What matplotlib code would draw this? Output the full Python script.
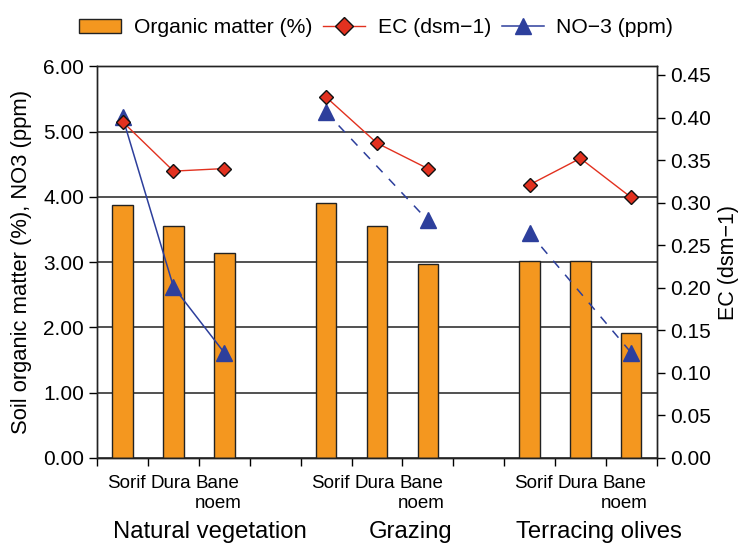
import numpy as np
import matplotlib
matplotlib.use("Agg")
import matplotlib.pyplot as plt
from matplotlib.patches import Patch
from matplotlib.lines import Line2D
from matplotlib.ticker import FormatStrFormatter, MultipleLocator, FixedLocator

plt.rcParams['font.family'] = ['Liberation Sans', 'DejaVu Sans']

groups = ["Natural vegetation", "Grazing", "Terracing olives"]
sites = ["Sorif", "Dura", "Bane\nnoem"]
organic_matter = [[3.87, 3.56, 3.14], [3.91, 3.56, 2.97], [3.01, 3.01, 1.92]]
ec = [[0.395, 0.337, 0.340], [0.424, 0.370, 0.340], [0.321, 0.352, 0.306]]
no3 = [[5.22, 2.62, 1.61], [5.30, np.nan, 3.64], [3.45, np.nan, 1.61]]
no3_style = ["-", "--", "--"]

orange = "#F4971F"
red = "#E2311F"
blue = "#2D3F9C"

fig = plt.figure(figsize=(7.42, 5.45), dpi=100)
ax = fig.add_axes([0.131, 0.160, 0.754, 0.718])
ax2 = ax.twinx()

slot = 4  # 3 sites + 1 blank slot per group
for g in range(len(groups)):
    xs = np.arange(len(sites)) + g * slot
    ax.bar(xs, organic_matter[g], width=0.4, color=orange, edgecolor="#222222",
           linewidth=1.0, zorder=2)
    y = np.array(no3[g], dtype=float)
    m = ~np.isnan(y)
    ls = no3_style[g]
    ax.plot(xs[m], y[m], linestyle=ls, color=blue, lw=1.1,
            dashes=(6, 6) if ls == "--" else (None, None), zorder=3)
    ax.plot(xs[m], y[m], linestyle="none", marker="^", ms=11, color=blue,
            markeredgecolor=blue, zorder=4)
    ax2.plot(xs, ec[g], color=red, lw=1.0, marker="D", ms=7.5,
             markerfacecolor=red, markeredgecolor="#111111", markeredgewidth=1.0,
             zorder=3)

nslots = len(groups) * slot - 1
ax.set_xlim(-0.5, nslots - 0.5)
ax.set_ylim(0, 6)
ax2.set_ylim(0, 0.46)

ax.yaxis.set_major_locator(MultipleLocator(1))
ax.yaxis.set_major_formatter(FormatStrFormatter("%.2f"))
ax2.yaxis.set_major_locator(FixedLocator(np.arange(0, 0.451, 0.05)))
ax2.yaxis.set_major_formatter(FormatStrFormatter("%.2f"))

ax.grid(axis="y", color="#222222", lw=1.1, zorder=0)
ax.set_axisbelow(True)

# label placement within each group (labels sit slightly packed together)
label_shift = [0.08, -0.05, -0.13]
tick_pos = []
tick_lab = []
for g in range(len(groups)):
    for i, s in enumerate(sites):
        tick_pos.append(g * slot + i + label_shift[i])
        tick_lab.append(s)
ax.set_xticks(tick_pos)
ax.set_xticklabels(tick_lab, fontsize=13.5, linespacing=1.2)
ax.tick_params(axis="x", which="major", length=0, pad=12.5)
ax.set_xticks(np.arange(-0.5, nslots, 1.0), minor=True)
ax.tick_params(axis="x", which="minor", length=6, width=1.0, direction="out")

ax.tick_params(axis="y", labelsize=15, length=6, width=1.0, direction="out")
ax2.tick_params(axis="y", labelsize=15, length=6, width=1.0, direction="out")

for spine in list(ax.spines.values()) + list(ax2.spines.values()):
    spine.set_linewidth(1.0)
    spine.set_color("#222222")

ax.set_ylabel("Soil organic matter (%), NO3 (ppm)", fontsize=15.8, labelpad=8)
ax2.set_ylabel("EC (dsm\u22121)", fontsize=15.5, labelpad=5)

group_x = [1.72, 5.66, 9.36]
for gx, name in zip(group_x, groups):
    ax.text(gx, -0.189, name, transform=ax.get_xaxis_transform(), ha="center",
            va="center", fontsize=17.2)

handles = [
    Patch(facecolor=orange, edgecolor="#222222", linewidth=1.0),
    Line2D([], [], color=red, lw=1.0, marker="D", ms=9, markerfacecolor=red,
           markeredgecolor="#111111"),
    Line2D([], [], color=blue, lw=1.1, marker="^", ms=12, markerfacecolor=blue,
           markeredgecolor=blue),
]
labels = ["Organic matter (%)", "EC (dsm\u22121)", "NO\u22123 (ppm)"]
fig.legend(handles, labels, loc="center", bbox_to_anchor=(0.507, 0.949), ncol=3,
           frameon=False, fontsize=15.2, handlelength=2.0, columnspacing=0.5,
           handletextpad=0.6)

fig.savefig("out.png", dpi=100)
